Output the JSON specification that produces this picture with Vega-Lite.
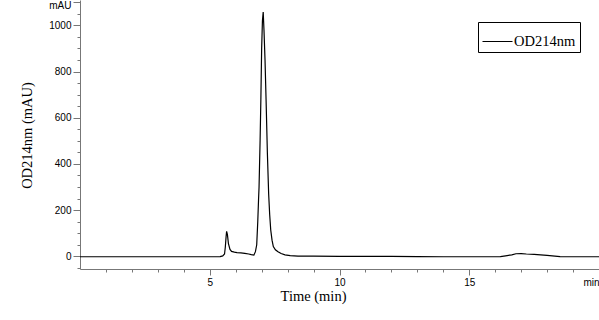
{
  "$schema": "https://vega.github.io/schema/vega-lite/v6.json",
  "width": 519,
  "height": 269,
  "autosize": {"type": "none"},
  "padding": {"left": 80, "top": 0, "right": 0, "bottom": 51},
  "background": "white",
  "config": {"view": {"stroke": null}},
  "data": {"values": [
    {"t": 0, "v": -2, "s": "OD214nm"},
    {"t": 1, "v": -2, "s": "OD214nm"},
    {"t": 2, "v": -2, "s": "OD214nm"},
    {"t": 3, "v": -2, "s": "OD214nm"},
    {"t": 4, "v": -2, "s": "OD214nm"},
    {"t": 5, "v": -2, "s": "OD214nm"},
    {"t": 5.4, "v": -1, "s": "OD214nm"},
    {"t": 5.5, "v": 2, "s": "OD214nm"},
    {"t": 5.57, "v": 10, "s": "OD214nm"},
    {"t": 5.6, "v": 40, "s": "OD214nm"},
    {"t": 5.63, "v": 85, "s": "OD214nm"},
    {"t": 5.65, "v": 108, "s": "OD214nm"},
    {"t": 5.68, "v": 95, "s": "OD214nm"},
    {"t": 5.72, "v": 55, "s": "OD214nm"},
    {"t": 5.78, "v": 30, "s": "OD214nm"},
    {"t": 5.84, "v": 21, "s": "OD214nm"},
    {"t": 5.95, "v": 18, "s": "OD214nm"},
    {"t": 6.05, "v": 16, "s": "OD214nm"},
    {"t": 6.2, "v": 15, "s": "OD214nm"},
    {"t": 6.35, "v": 13, "s": "OD214nm"},
    {"t": 6.5, "v": 10, "s": "OD214nm"},
    {"t": 6.6, "v": 7, "s": "OD214nm"},
    {"t": 6.7, "v": 5, "s": "OD214nm"},
    {"t": 6.76, "v": 20, "s": "OD214nm"},
    {"t": 6.81, "v": 50, "s": "OD214nm"},
    {"t": 6.85, "v": 150, "s": "OD214nm"},
    {"t": 6.88, "v": 244, "s": "OD214nm"},
    {"t": 6.9, "v": 300, "s": "OD214nm"},
    {"t": 6.94, "v": 500, "s": "OD214nm"},
    {"t": 6.97, "v": 680, "s": "OD214nm"},
    {"t": 7.0, "v": 900, "s": "OD214nm"},
    {"t": 7.03, "v": 1020, "s": "OD214nm"},
    {"t": 7.06, "v": 1058, "s": "OD214nm"},
    {"t": 7.09, "v": 980, "s": "OD214nm"},
    {"t": 7.13, "v": 850, "s": "OD214nm"},
    {"t": 7.17, "v": 680, "s": "OD214nm"},
    {"t": 7.22, "v": 450, "s": "OD214nm"},
    {"t": 7.27, "v": 270, "s": "OD214nm"},
    {"t": 7.31, "v": 180, "s": "OD214nm"},
    {"t": 7.35, "v": 114, "s": "OD214nm"},
    {"t": 7.4, "v": 70, "s": "OD214nm"},
    {"t": 7.45, "v": 42, "s": "OD214nm"},
    {"t": 7.53, "v": 28, "s": "OD214nm"},
    {"t": 7.63, "v": 20, "s": "OD214nm"},
    {"t": 7.75, "v": 12, "s": "OD214nm"},
    {"t": 7.9, "v": 6, "s": "OD214nm"},
    {"t": 8.1, "v": 3, "s": "OD214nm"},
    {"t": 8.4, "v": 1, "s": "OD214nm"},
    {"t": 9, "v": 1, "s": "OD214nm"},
    {"t": 10, "v": 0, "s": "OD214nm"},
    {"t": 12, "v": 0, "s": "OD214nm"},
    {"t": 13, "v": -1, "s": "OD214nm"},
    {"t": 14, "v": -2, "s": "OD214nm"},
    {"t": 15, "v": -2, "s": "OD214nm"},
    {"t": 16, "v": -2, "s": "OD214nm"},
    {"t": 16.2, "v": -1, "s": "OD214nm"},
    {"t": 16.4, "v": 2, "s": "OD214nm"},
    {"t": 16.64, "v": 6, "s": "OD214nm"},
    {"t": 16.8, "v": 11, "s": "OD214nm"},
    {"t": 17.0, "v": 12, "s": "OD214nm"},
    {"t": 17.2, "v": 10, "s": "OD214nm"},
    {"t": 17.5, "v": 8, "s": "OD214nm"},
    {"t": 18.0, "v": 4, "s": "OD214nm"},
    {"t": 18.3, "v": 1, "s": "OD214nm"},
    {"t": 18.5, "v": -1, "s": "OD214nm"},
    {"t": 19, "v": -2, "s": "OD214nm"},
    {"t": 20, "v": -2, "s": "OD214nm"}
  ]},
  "mark": {"type": "line", "strokeWidth": 1.2, "clip": true},
  "encoding": {
    "x": {
      "field": "t", "type": "quantitative",
      "scale": {"domain": [0, 20], "nice": false, "zero": false},
      "axis": {
        "title": "Time (min)",
        "titleFont": "Liberation Serif", "titleFontSize": 14.5, "titleFontWeight": "normal", "titleColor": "black",
        "titleX": 233, "titleY": 27, "titleBaseline": "middle", "titleAnchor": null,
        "values": [1,2,3,4,5,6,7,8,9,10,11,12,13,14,15,16,17,18,19,20],
        "labelExpr": "datum.value == 20 ? 'min' : (datum.value % 5 == 0 ? datum.label : '')",
        "labelFont": "Liberation Sans", "labelFontSize": 10, "labelColor": "black",
        "labelPadding": 2, "labelFlush": true, "labelOverlap": false,
        "tickSize": {"condition": {"test": "datum.value % 5 == 0", "value": 6}, "value": 3},
        "tickColor": "#777", "domainColor": "#777", "grid": false
      }
    },
    "y": {
      "field": "v", "type": "quantitative",
      "scale": {"domain": [-55, 1110], "nice": false, "zero": false},
      "axis": {
        "title": "OD214nm (mAU)",
        "titleFont": "Liberation Serif", "titleFontSize": 14.5, "titleFontWeight": "normal", "titleColor": "black",
        "titleX": -53, "titleY": 135, "titleBaseline": "middle", "titleAnchor": null,
        "values": [-50,0,50,100,150,200,250,300,350,400,450,500,550,600,650,700,750,800,850,900,950,1000,1050,1100],
        "labelExpr": "datum.value == 1100 ? 'mAU' : (datum.value % 200 == 0 && datum.value >= 0 ? datum.label : '')",
        "format": "d",
        "labelFont": "Liberation Sans", "labelFontSize": 10, "labelColor": "black",
        "labelPadding": 2, "labelFlush": false, "labelOverlap": false,
        "labelBaseline": {"condition": {"test": "datum.value == 1100", "value": "top"}, "value": "middle"},
        "labelOffset": {"condition": {"test": "datum.value == 1100", "value": -2}, "value": 0},
        "tickSize": {"condition": {"test": "datum.value % 200 == 0 || datum.value == 1100", "value": 7}, "value": 3},
        "tickColor": "#777", "domainColor": "#777", "grid": false
      }
    },
    "color": {
      "field": "s", "type": "nominal",
      "scale": {"range": ["black"]},
      "legend": {
        "title": null, "orient": "none", "legendX": 398, "legendY": 22,
        "symbolType": "stroke", "symbolSize": 900, "symbolStrokeWidth": 1,
        "labelFont": "Liberation Serif", "labelFontSize": 14.5, "labelColor": "black",
        "labelOffset": 1, "padding": 4,
        "labelExpr": "datum.label + '\u00a0\u00a0\u00a0\u00a0'",
        "strokeColor": "black", "fillColor": "white"
      }
    }
  }
}
